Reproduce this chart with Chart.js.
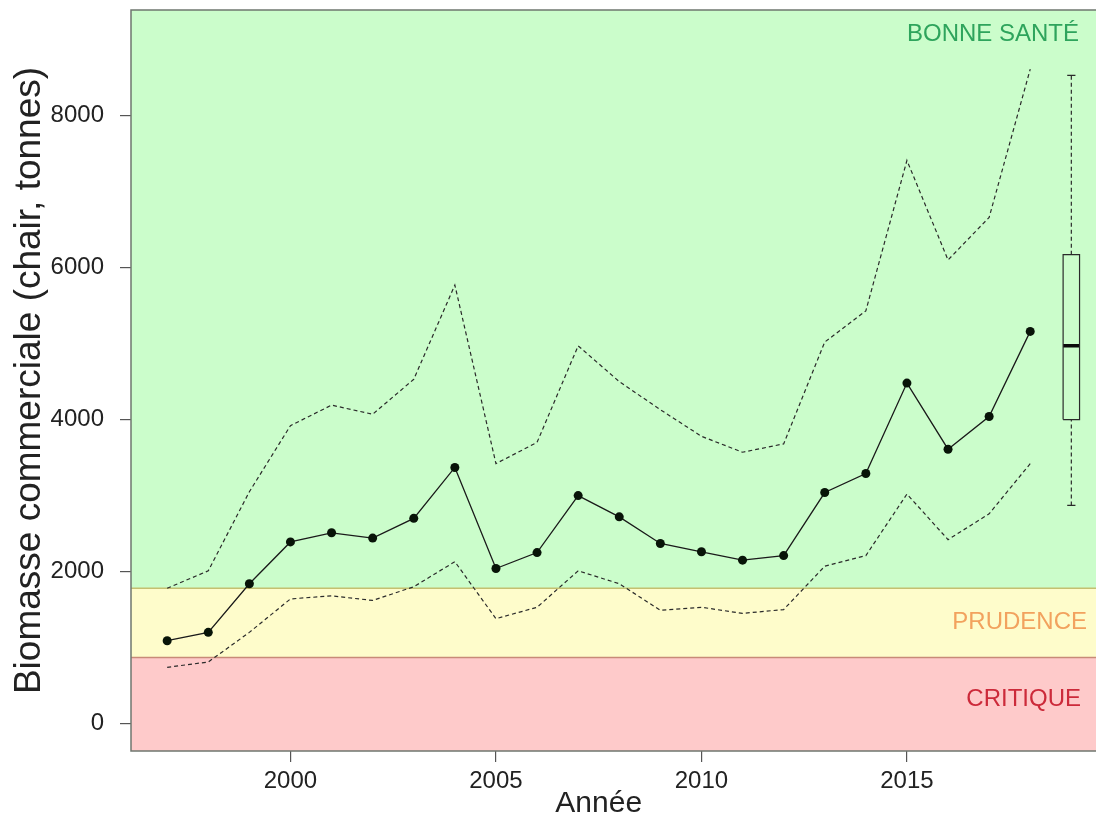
<!DOCTYPE html>
<html>
<head>
<meta charset="utf-8">
<script src="https://cdn.jsdelivr.net/npm/chart.js@4/dist/chart.umd.min.js"></script>
<style>
html, body { margin: 0; padding: 0; background: #fff; overflow: hidden; }
canvas { display: block; }
</style>
</head>
<body>
<canvas id="chart" width="1112" height="819"></canvas>
<script>
// data
var years   = [1997,1998,1999,2000,2001,2002,2003,2004,2005,2006,2007,2008,2009,2010,2011,2012,2013,2014,2015,2016,2017,2018];
var biomass = [1090,1200,1840,2390,2510,2440,2700,3370,2040,2250,3000,2720,2370,2260,2150,2210,3040,3290,4480,3610,4040,5160];
var upper   = [1780,2010,3050,3920,4190,4070,4530,5770,3420,3700,4970,4500,4130,3780,3570,3680,5020,5430,7410,6100,6660,8610];
var lower   = [ 740, 810,1200,1640,1680,1620,1800,2130,1380,1530,2010,1840,1490,1530,1450,1500,2070,2210,3020,2420,2760,3420];
// boxplot : min, q1, median, q3, max
var boxYear  = 2019;
var boxStats = [2870, 4000, 4970, 6170, 8530];
// zone limits (critique / prudence / bonne sante)
var zoneLimits = [870, 1780];
var zoneNames  = ['CRITIQUE', 'PRUDENCE', 'BONNE SANTÉ'];
var yTicks = [0, 2000, 4000, 6000, 8000];
var xTicks = [2000, 2005, 2010, 2015];

var FONT = "'Liberation Sans', Arial, sans-serif";

function pts(xs, ys) {
    var out = [];
    for (let i = 0; i < xs.length; i++) out.push({x: xs[i], y: ys[i]});
    return out;
}

var bw = 0.2, cw = 0.1;
var boxData = [
    {x: boxYear - bw, y: boxStats[1]}, {x: boxYear + bw, y: boxStats[1]},
    {x: boxYear + bw, y: boxStats[3]}, {x: boxYear - bw, y: boxStats[3]},
    {x: boxYear - bw, y: boxStats[1]}
];

var zonesPlugin = {
    id: 'zones',
    beforeDraw: function(chart) {
        var ctx = chart.ctx, a = chart.chartArea, y = chart.scales.y;
        var p1 = y.getPixelForValue(zoneLimits[0]);
        var p2 = y.getPixelForValue(zoneLimits[1]);
        ctx.save();
        ctx.fillStyle = '#cbfdcb';
        ctx.fillRect(a.left, a.top, a.right - a.left, p2 - a.top);
        ctx.fillStyle = '#fefccb';
        ctx.fillRect(a.left, p2, a.right - a.left, p1 - p2);
        ctx.fillStyle = '#fecaca';
        ctx.fillRect(a.left, p1, a.right - a.left, a.bottom - p1);
        ctx.lineWidth = 1.5;
        ctx.strokeStyle = '#c4c070';
        ctx.beginPath(); ctx.moveTo(a.left, p2); ctx.lineTo(a.right, p2); ctx.stroke();
        ctx.strokeStyle = '#c88a78';
        ctx.beginPath(); ctx.moveTo(a.left, p1); ctx.lineTo(a.right, p1); ctx.stroke();
        ctx.restore();
    },
    afterDraw: function(chart) {
        var ctx = chart.ctx, a = chart.chartArea, x = chart.scales.x, y = chart.scales.y;
        var p1 = y.getPixelForValue(zoneLimits[0]);
        var p2 = y.getPixelForValue(zoneLimits[1]);
        ctx.save();
        ctx.lineWidth = 1.5;
        ctx.strokeStyle = '#6f776f';
        ctx.strokeRect(a.left, a.top, a.right - a.left, a.bottom - a.top);
        ctx.font = '24px ' + FONT;
        ctx.textAlign = 'right';
        ctx.textBaseline = 'middle';
        ctx.fillStyle = '#2ea45c';
        ctx.fillText(zoneNames[2], 1079, a.top + 24);
        ctx.fillStyle = '#f2a25e';
        ctx.fillText(zoneNames[1], 1087, (p1 + p2) / 2);
        ctx.fillStyle = '#cc2a3a';
        ctx.fillText(zoneNames[0], 1081, p1 + 42);
        // x axis title, centred on the years span
        var mid = (years[0] + years[years.length - 1]) / 2;
        ctx.font = '30px ' + FONT;
        ctx.textAlign = 'center';
        ctx.fillStyle = '#222';
        ctx.fillText('Année', x.getPixelForValue(mid), 804);
        ctx.restore();
    }
};

var ctx = document.getElementById('chart');
var chart = new Chart(ctx, {
    type: 'line',
    data: {
        datasets: [
            {
                data: pts(years, upper),
                borderColor: '#2a2a2a', borderWidth: 1.2, borderDash: [4, 3],
                pointRadius: 0, fill: false
            },
            {
                data: pts(years, lower),
                borderColor: '#2a2a2a', borderWidth: 1.2, borderDash: [4, 3],
                pointRadius: 0, fill: false
            },
            {
                data: pts(years, biomass),
                borderColor: '#1a1a1a', borderWidth: 1.3,
                pointRadius: 4.5, pointBackgroundColor: '#081408', pointBorderWidth: 0,
                fill: false
            },
            {
                data: [{x: boxYear, y: boxStats[0]}, {x: boxYear, y: boxStats[1]}],
                borderColor: '#2a2a2a', borderWidth: 1.2, borderDash: [4, 3], pointRadius: 0
            },
            {
                data: [{x: boxYear, y: boxStats[3]}, {x: boxYear, y: boxStats[4]}],
                borderColor: '#2a2a2a', borderWidth: 1.2, borderDash: [4, 3], pointRadius: 0
            },
            {
                data: [{x: boxYear - cw, y: boxStats[0]}, {x: boxYear + cw, y: boxStats[0]}],
                borderColor: '#2a2a2a', borderWidth: 1.2, pointRadius: 0
            },
            {
                data: [{x: boxYear - cw, y: boxStats[4]}, {x: boxYear + cw, y: boxStats[4]}],
                borderColor: '#2a2a2a', borderWidth: 1.2, pointRadius: 0
            },
            {
                data: boxData,
                borderColor: '#2a2a2a', borderWidth: 1.2, pointRadius: 0
            },
            {
                data: [{x: boxYear - bw, y: boxStats[2]}, {x: boxYear + bw, y: boxStats[2]}],
                borderColor: '#0a0a0a', borderWidth: 3.5, pointRadius: 0
            }
        ]
    },
    options: {
        responsive: false,
        animation: false,
        devicePixelRatio: 1,
        layout: { padding: { top: 10, right: 3, left: 0, bottom: 0 } },
        plugins: { legend: { display: false }, tooltip: { enabled: false } },
        elements: { line: { tension: 0 } },
        scales: {
            x: {
                type: 'linear',
                min: 1996.12, max: 2019.88,
                afterBuildTicks: function(scale) {
                    scale.ticks = xTicks.map(function(v) { return {value: v}; });
                },
                afterFit: function(scale) {
                    scale.height = 68;
                    scale.paddingLeft = 0; scale.paddingRight = 0;
                },
                grid: { drawOnChartArea: false, drawTicks: true, tickLength: 11, color: '#555', lineWidth: 1.2 },
                border: { display: false },
                ticks: {
                    color: '#222', padding: 5, maxRotation: 0,
                    font: { size: 24, family: FONT },
                    callback: function(v) { return String(v); }
                },
                title: { display: false }
            },
            y: {
                min: -361, max: 9389,
                afterBuildTicks: function(scale) {
                    scale.ticks = yTicks.map(function(v) { return {value: v}; });
                },
                afterFit: function(scale) {
                    scale.width = 131;
                    scale.paddingTop = 0; scale.paddingBottom = 0;
                },
                grid: { drawOnChartArea: false, drawTicks: true, tickLength: 11, color: '#555', lineWidth: 1.2 },
                border: { display: false },
                ticks: {
                    color: '#222', padding: 16,
                    font: { size: 24, family: FONT },
                    callback: function(v) { return String(v); }
                },
                title: {
                    display: true, text: 'Biomasse commerciale (chair, tonnes)', color: '#222',
                    font: { size: 37, family: FONT, lineHeight: 1.2 },
                    padding: { top: 8, bottom: 0 }
                }
            }
        }
    },
    plugins: [zonesPlugin]
});
</script>
</body>
</html>
